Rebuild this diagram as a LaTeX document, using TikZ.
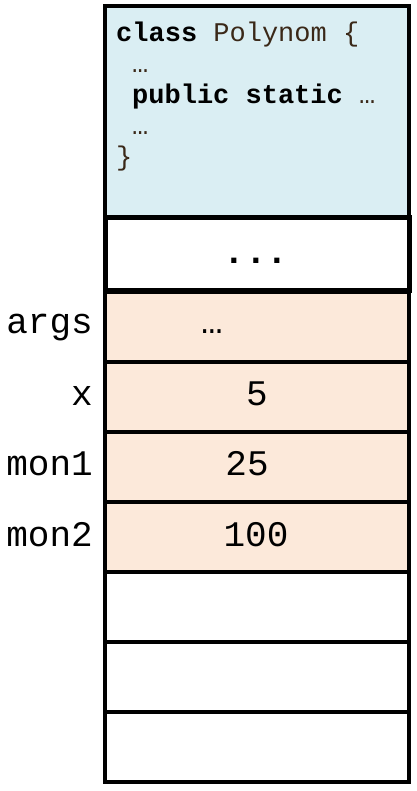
\documentclass[tikz,border=0pt]{standalone}
\usepackage{fontspec}
\setmonofont{Liberation Mono}
\newfontfamily\codefont{Liberation Mono}
\definecolor{classblue}{HTML}{DAEEF3}
\definecolor{frameorange}{HTML}{FCE9DA}
\definecolor{codebrown}{RGB}{58,40,24}
\begin{document}
\begin{tikzpicture}[x=1pt,y=-1pt,
  cell/.style={draw=black, line width=3.2pt, minimum width=304pt, minimum height=70pt,
               inner sep=0pt, outer sep=0pt, anchor=north west},
  framecell/.style={cell, fill=frameorange},
  freecell/.style={cell, fill=white},
  codeline/.style={anchor=base west, inner sep=0pt, text=codebrown,
                   font=\codefont\fontsize{27}{31}\selectfont},
  varname/.style={anchor=base east, inner sep=0pt, font=\codefont\fontsize{36}{40}\selectfont},
  varvalue/.style={anchor=base, inner sep=0pt, font=\codefont\fontsize{36}{40}\selectfont}]
  \useasboundingbox (0,0) rectangle (416,791);

  % class area
  \node[cell, fill=classblue, minimum height=212pt] (cls) at (105,6) {};
  \node[codeline] (l1) at (116,42) {\textcolor{black}{\bfseries class} Polynom \{};
  \node[codeline] (l2) at (132,73) {…};
  \node[codeline] (l3) at (132,104) {\textcolor{black}{\bfseries public static} …};
  \node[codeline] (l4) at (132,135) {…};
  \node[codeline] (l5) at (116,166) {\}};

  % separator cell
  \node[freecell, line width=5pt, minimum height=72pt] (sep) at (105,218) {};
  \node[varvalue, font=\codefont\bfseries\fontsize{36}{40}\selectfont] (septext) at (256,263) {...};

  % stack frame of the method
  \node[framecell] (args) at (105,292) {};
  \node[framecell] (x)    at (105,362) {};
  \node[framecell] (mon1) at (105,432) {};
  \node[framecell] (mon2) at (105,502) {};

  \node[varname] (nargs) at (93,333) {args};
  \node[varname] (nx)    at (93,405) {x};
  \node[varname] (nmon1) at (93,475) {mon1};
  \node[varname] (nmon2) at (93,546) {mon2};

  \node[varvalue] (vargs) at (212,333) {…};
  \node[varvalue] (vx)    at (257,405) {5};
  \node[varvalue] (vmon1) at (247,475) {25};
  \node[varvalue] (vmon2) at (256,546) {100};

  % free stack cells
  \node[freecell] (f1) at (105,572) {};
  \node[freecell, line width=4.2pt] (f2) at (105,642) {};
  \node[freecell, line width=4.2pt] (f3) at (105,712) {};
\end{tikzpicture}
\end{document}
